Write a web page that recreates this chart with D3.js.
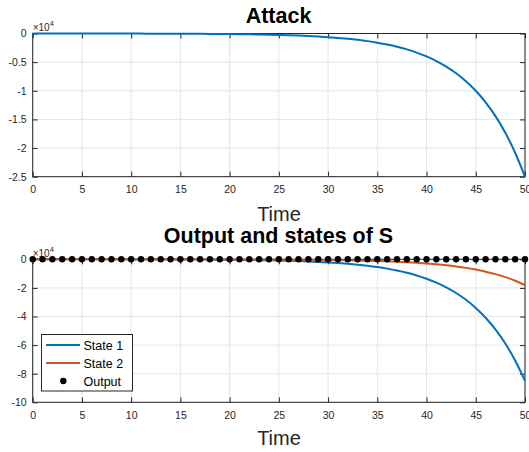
<!DOCTYPE html>
<html>
<head>
<meta charset="utf-8">
<script src="https://cdn.jsdelivr.net/npm/d3@7"></script>
<style>
  body { margin: 0; background: #fff; }
  svg text { font-family: "Liberation Sans", Arial, sans-serif; }
</style>
</head>
<body>
<svg id="chart" width="529" height="452"></svg>
<script>
// time steps 0..50
let timeSteps = d3.range(0, 51);

// attack signal (raw units)
let attackValues = [
    -3, -3, -4, -5, -5, -7, -8, -9, -11, -14,
    -16, -20, -24, -28, -34, -41, -49, -59, -71, -85,
    -102, -123, -148, -177, -213, -256, -308, -369, -444, -533,
    -640, -769, -923, -1109, -1332, -1600, -1922, -2308, -2773, -3330,
    -4000, -4805, -5771, -6931, -8326, -10000, -12011, -14427, -17329, -20814,
    -25000
];

let state1Values = [
    0, -11, -13, -16, -19, -23, -27, -32, -39, -47,
    -56, -68, -80, -95, -115, -140, -170, -200, -240, -290,
    -350, -420, -500, -600, -720, -870, -1050, -1250, -1510, -1810,
    -2180, -2610, -3140, -3770, -4530, -5440, -6530, -7850, -9430, -11320,
    -13600, -16340, -19620, -23570, -28310, -34000, -40840, -49050, -58920, -70770,
    -85000
];

let state2Values = [
    0, -2, -2, -3, -4, -5, -6, -7, -8, -10,
    -12, -14, -17, -20, -25, -30, -35, -40, -50, -60,
    -70, -90, -110, -130, -150, -180, -220, -270, -320, -380,
    -460, -550, -660, -800, -960, -1150, -1380, -1660, -2000, -2400,
    -2880, -3460, -4160, -4990, -5990, -7200, -8650, -10390, -12480, -14990,
    -18000
];

let outputValues = [
    0, 0, 0, 0, 0, 0, 0, 0, 0, 0,
    0, 0, 0, 0, 0, 0, 0, 0, 0, 0,
    0, 0, 0, 0, 0, 0, 0, 0, 0, 0,
    0, 0, 0, 0, 0, 0, 0, 0, 0, 0,
    0, 0, 0, 0, 0, 0, 0, 0, 0, 0,
    0
];

let xTicks = [0, 5, 10, 15, 20, 25, 30, 35, 40, 45, 50];
let topYTicks = [0, -0.5, -1, -1.5, -2, -2.5];
let bottomYTicks = [0, -2, -4, -6, -8, -10];
let legendNames = ["State 1", "State 2", "Output"];

let axisColor = "#262626";
let gridColor = "#e5e5e5";
let blue = "#0072BD";
let orange = "#D95319";

let svg = d3.select("#chart");

function drawPanel(top, bottom, yDomain, yTicks, title, titleY, labelY) {
    let x = d3.scaleLinear().domain([0, 50]).range([32.7, 525]);
    let y = d3.scaleLinear().domain(yDomain).range([bottom, top]);
    let g = svg.append("g");

    // grid
    g.selectAll(".vgrid").data(xTicks).enter().append("line")
        .attr("x1", d => x(d)).attr("x2", d => x(d))
        .attr("y1", top).attr("y2", bottom)
        .attr("stroke", gridColor).attr("stroke-width", 1);
    g.selectAll(".hgrid").data(yTicks).enter().append("line")
        .attr("x1", x(0)).attr("x2", x(50))
        .attr("y1", d => y(d * 1e4)).attr("y2", d => y(d * 1e4))
        .attr("stroke", gridColor).attr("stroke-width", 1);

    // box
    g.append("rect")
        .attr("x", x(0)).attr("y", top)
        .attr("width", x(50) - x(0)).attr("height", bottom - top)
        .attr("fill", "none").attr("stroke", axisColor).attr("stroke-width", 1);

    // axes, ticks inward
    let xAxis = d3.axisBottom(x).tickValues(xTicks).tickSizeInner(-5).tickSizeOuter(0).tickPadding(10);
    let xg = g.append("g").attr("transform", "translate(0," + bottom + ")").call(xAxis);
    let xAxisTop = d3.axisTop(x).tickValues(xTicks).tickSizeInner(-5).tickSizeOuter(0).tickFormat("");
    let xgt = g.append("g").attr("transform", "translate(0," + top + ")").call(xAxisTop);

    let yAxis = d3.axisLeft(y).tickValues(yTicks.map(d => d * 1e4)).tickSizeInner(-5).tickSizeOuter(0)
        .tickPadding(6).tickFormat(d => String(d / 1e4));
    let yg = g.append("g").attr("transform", "translate(" + x(0) + ",0)").call(yAxis);
    let yAxisR = d3.axisRight(y).tickValues(yTicks.map(d => d * 1e4)).tickSizeInner(-5).tickSizeOuter(0).tickFormat("");
    let ygr = g.append("g").attr("transform", "translate(" + x(50) + ",0)").call(yAxisR);

    [xg, xgt, yg, ygr].forEach(function (a) {
        a.select(".domain").remove();
        a.selectAll("line").attr("stroke", axisColor);
        a.selectAll("text").attr("fill", axisColor).style("font-size", "10.5px");
    });
    xg.selectAll("text").attr("dy", "0.62em");

    // exponent label
    let ex = g.append("text").attr("x", x(0)).attr("y", top - 2.5)
        .attr("fill", axisColor).style("font-size", "10px");
    ex.append("tspan").text("\u00d710");
    ex.append("tspan").attr("dy", -5).style("font-size", "7.5px").text("4");

    // title
    g.append("text").attr("x", 278.5).attr("y", titleY)
        .attr("text-anchor", "middle").attr("fill", "#000")
        .style("font-size", "21.5px").style("font-weight", "bold").text(title);

    // x label
    g.append("text").attr("x", 279).attr("y", labelY)
        .attr("text-anchor", "middle").attr("fill", axisColor)
        .style("font-size", "20px").text("Time");

    return {g: g, x: x, y: y};
}

// ---- top panel: Attack
let p1 = drawPanel(33.5, 176.7, [-25000, 0], topYTicks, "Attack", 22.7, 220.5);
p1.g.append("path")
    .datum(timeSteps)
    .attr("d", d3.line().x(d => p1.x(d)).y(d => p1.y(attackValues[d])).curve(d3.curveMonotoneX))
    .attr("fill", "none").attr("stroke", blue).attr("stroke-width", 2);

// ---- bottom panel: Output and states of S
let p2 = drawPanel(259.3, 402.3, [-100000, 0], bottomYTicks, "Output and states of S", 243, 445);
p2.g.append("path")
    .datum(timeSteps)
    .attr("d", d3.line().x(d => p2.x(d)).y(d => p2.y(state1Values[d])).curve(d3.curveMonotoneX))
    .attr("fill", "none").attr("stroke", blue).attr("stroke-width", 2);
p2.g.append("path")
    .datum(timeSteps)
    .attr("d", d3.line().x(d => p2.x(d)).y(d => p2.y(state2Values[d])).curve(d3.curveMonotoneX))
    .attr("fill", "none").attr("stroke", orange).attr("stroke-width", 2);
p2.g.selectAll(".dot").data(timeSteps).enter().append("circle")
    .attr("cx", d => p2.x(d)).attr("cy", d => p2.y(outputValues[d]))
    .attr("r", 3.2).attr("fill", "#000");

// legend
let lg = p2.g.append("g");
lg.append("rect").attr("x", 41.5).attr("y", 334.5).attr("width", 91).attr("height", 56.5)
    .attr("fill", "#fff").attr("stroke", axisColor).attr("stroke-width", 1);
legendNames.forEach(function (name, i) {
    let ly = 345 + i * 18;
    if (i < 2) {
        lg.append("line").attr("x1", 46).attr("x2", 80).attr("y1", ly).attr("y2", ly)
            .attr("stroke", i === 0 ? blue : orange).attr("stroke-width", 2);
    } else {
        lg.append("circle").attr("cx", 63.3).attr("cy", ly).attr("r", 3.2).attr("fill", "#000");
    }
    lg.append("text").attr("x", 83.5).attr("y", ly + 4.5).attr("fill", "#000")
        .style("font-size", "12.5px").text(name);
});
</script>
</body>
</html>
